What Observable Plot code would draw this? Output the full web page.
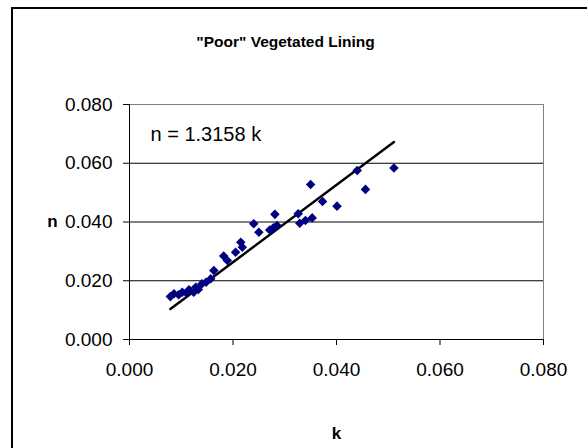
<!DOCTYPE html>
<html>
<head>
<meta charset="utf-8">
<script src="https://cdn.jsdelivr.net/npm/d3@7"></script>
<script src="https://cdn.jsdelivr.net/npm/@observablehq/plot@0.6"></script>
<style>
  html, body { margin: 0; padding: 0; background: #fff; }
  #wrap { position: relative; width: 587px; height: 448px; overflow: hidden; }
  #frame { position: absolute; left: 11px; top: 7px; width: 700px; height: 600px;
           border-top: 2px solid #000; border-left: 2px solid #000; }
  #chart { position: absolute; left: 0; top: 0; }
</style>
</head>
<body>
<div id="wrap"><div id="frame"></div><div id="chart"></div></div>
<script>
const titleText = "\"Poor\" Vegetated Lining";
const xLabel = "k";
const yLabel = "n";
const slope = 1.3158;
const equationText = "n = 1.3158 k";
const xTicks = [0, 0.02, 0.04, 0.06, 0.08];
const yTicks = [0, 0.02, 0.04, 0.06, 0.08];
const gridValues = [0.02, 0.04, 0.06];

const kValues = [0.0079, 0.0086, 0.0095, 0.0102, 0.0110, 0.0115, 0.0124, 0.0128, 0.0133, 0.0140, 0.0148, 0.0157, 0.0163, 0.0182, 0.0189, 0.0205, 0.0215, 0.0218, 0.0240, 0.0250, 0.0271, 0.0278, 0.0281, 0.0285, 0.0326, 0.0329, 0.0340, 0.0350, 0.0353, 0.0373, 0.0401, 0.0440, 0.0456, 0.0511];
const nValues = [0.0146, 0.0156, 0.0152, 0.0161, 0.0158, 0.0169, 0.0161, 0.0178, 0.0170, 0.0190, 0.0195, 0.0207, 0.0235, 0.0284, 0.0269, 0.0297, 0.0331, 0.0314, 0.0394, 0.0365, 0.0373, 0.0380, 0.0426, 0.0388, 0.0428, 0.0396, 0.0405, 0.0528, 0.0414, 0.0470, 0.0454, 0.0575, 0.0511, 0.0584];

const points = kValues.map((k, i) => ({k, n: nValues[i]}));
const kMin = d3.min(kValues), kMax = d3.max(kValues);
const fit = [kMin, kMax].map(k => ({k, n: slope * k}));

const font = "'Liberation Sans', Arial, sans-serif";

const chart = Plot.plot({
  width: 587,
  height: 448,
  marginLeft: 129,
  marginRight: 44,
  marginTop: 104,
  marginBottom: 109,
  x: {domain: [0, 0.08]},
  y: {domain: [0, 0.08]},
  style: {fontFamily: font, fontSize: "18px", color: "#000", background: "transparent"},
  marks: [
    Plot.ruleY(gridValues, {stroke: "#000", strokeWidth: 1}),
    Plot.ruleY([0.08], {stroke: "#808080", strokeWidth: 1}),
    Plot.ruleX([0.08], {stroke: "#808080", strokeWidth: 1}),
    Plot.axisX({ticks: xTicks, tickFormat: d3.format(".3f"), tickSize: 6, tickPadding: 17, fontSize: 19, label: null, stroke: "#000"}),
    Plot.axisY({ticks: yTicks, tickFormat: d3.format(".3f"), tickSize: 6, tickPadding: 11, fontSize: 19, label: null, stroke: "#000"}),
    Plot.ruleX([0], {stroke: "#000", strokeWidth: 1}),
    Plot.ruleY([0], {stroke: "#000", strokeWidth: 1}),
    Plot.line(fit, {x: "k", y: "n", stroke: "#000", strokeWidth: 2.5}),
    Plot.dot(points, {x: "k", y: "n", symbol: "diamond2", fill: "#000080", stroke: "none", r: 4.3}),
    Plot.text([equationText], {frameAnchor: "top-left", textAnchor: "start", lineAnchor: "middle", dx: 21, dy: 30, fontSize: 20}),
    Plot.text([titleText], {frameAnchor: "top", textAnchor: "middle", lineAnchor: "middle", dx: -51, dy: -62, fontSize: 15.5, fontWeight: "bold"}),
    Plot.text([xLabel], {frameAnchor: "bottom", textAnchor: "middle", lineAnchor: "middle", dy: 94, fontSize: 17, fontWeight: "bold"}),
    Plot.text([yLabel], {frameAnchor: "left", textAnchor: "middle", lineAnchor: "middle", dx: -77, fontSize: 17, fontWeight: "bold"})
  ]
});
document.getElementById("chart").appendChild(chart);
</script>
</body>
</html>
